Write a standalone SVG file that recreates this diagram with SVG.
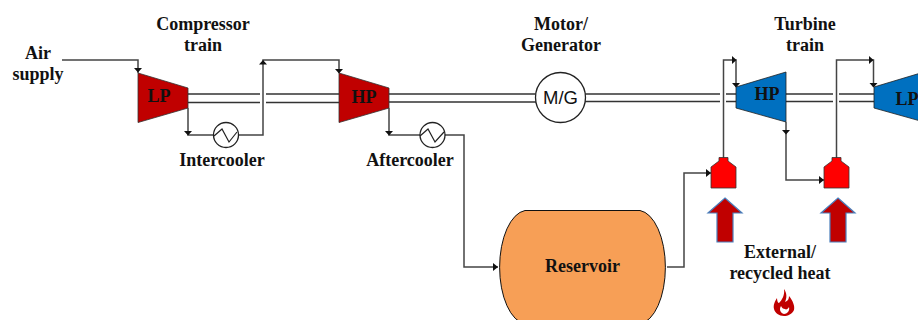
<svg xmlns="http://www.w3.org/2000/svg" width="918" height="320" viewBox="0 0 918 320">
<style>
text{font-family:"Liberation Serif","Times New Roman",serif;font-weight:700;font-size:18px;fill:#111;text-anchor:middle}
.sans{font-family:"Liberation Sans",Arial,sans-serif;font-weight:400;font-size:18.500px}
.pipe{fill:none;stroke:#444;stroke-width:1.500}
.shaft{fill:none;stroke:#333;stroke-width:1.300}
.cool{fill:#fff;stroke:#222;stroke-width:1.300}
.comp{fill:#c00000;stroke:#333;stroke-width:.8}
.turb{fill:#0070c0;stroke:#222;stroke-width:.8}
.burn{fill:#ff0000;stroke:#333;stroke-width:.8}
.up{fill:#c00000;stroke:#4a7ebb;stroke-width:1.200}
.hd{fill:#111}
</style>
<g id="connectors">
<path class="shaft" d="M188 94H260M188 102.500H260M266 94H339M266 102.500H339M389 94H536M389 102H536M585 94H720M585 101.500H720M726 94H736M726 101.500H736M786 94H833M786 101.500H833M839 94H874M839 101.500H874"/>
<path class="pipe" d="M62 60H138V73"/>
<path class="pipe" d="M188 108V135H214M238 135H263V60H339V73"/>
<path class="pipe" d="M389 108V135H420M445 135H464V267H498"/>
<path class="pipe" d="M667 267H684V173H711"/>
<path class="pipe" d="M723.500 158V60H736V87"/>
<path class="pipe" d="M786 122V180H824"/>
<path class="pipe" d="M836.500 158V60H873.500V87"/>
<path class="hd" d="M134 68H142L138 72.500ZM184 131H192L188 135.500ZM259 64.500H267L263 60ZM335 69H343L339 73.500ZM385 131H393L389 135.500ZM493 263V271L498 267ZM706 169V177L711 173ZM732 56V64L736.500 60ZM732 83H740L736 87.500ZM782 130H790L786 134.500ZM819 176V184L824 180ZM869 56V64L873.500 60ZM869.500 83H877.500L873.500 87.500Z"/>
</g>
<g id="air-supply"><text x="38" y="59">Air</text><text x="38" y="80">supply</text></g>
<g id="compressor-train"><text x="203" y="30">Compressor</text><text x="203" y="51">train</text></g>
<g id="lp-compressor"><polygon class="comp" points="138,73 188,88 188,108 138,122.500"/><text x="159" y="102">LP</text></g>
<g id="intercooler"><circle class="cool" cx="226" cy="135" r="12.500"/><path fill="none" stroke="#222" stroke-width="1.200" d="M214 136L222 129L229 142L237 132"/><text x="222" y="166">Intercooler</text></g>
<g id="hp-compressor"><polygon class="comp" points="339,73 389,88 389,108 339,122.500"/><text x="364" y="103">HP</text></g>
<g id="aftercooler"><circle class="cool" cx="432.500" cy="135" r="12.500"/><path fill="none" stroke="#222" stroke-width="1.200" d="M420 136L428 129L435 142L444 132"/><text x="410" y="166">Aftercooler</text></g>
<g id="motor-generator"><text x="561" y="30">Motor/</text><text x="561" y="51">Generator</text><circle cx="560.500" cy="97.500" r="25" fill="#fff" stroke="#222" stroke-width="1.300"/><text class="sans" x="560.500" y="103.500">M/G</text></g>
<g id="turbine-train"><text x="805" y="30">Turbine</text><text x="805" y="51">train</text></g>
<g id="hp-turbine"><polygon class="turb" points="736,87 786,72 786,122 736,108"/><text x="767" y="100">HP</text></g>
<g id="lp-turbine"><polygon class="turb" points="874,87 924,72 924,122 874,108"/><text x="907" y="105">LP</text></g>
<g id="reservoir"><path d="M525 210.500H640A28 57 0 0 1 640 324H525A28 57 0 0 1 525 210.500Z" fill="#f79f56" stroke="#111" stroke-width="1"/><text x="582.500" y="272">Reservoir</text></g>
<g id="burner-1"><polygon class="burn" points="719,157.500 728,157.500 728,161 736,167 736,188 711,188 711,167 719,161"/></g>
<g id="burner-2"><polygon class="burn" points="832,157.500 841,157.500 841,161 849,167 849,188 824,188 824,167 832,161"/></g>
<g id="heat-arrow-1"><polygon class="up" points="725,198 742,213 733,213 733,242 717,242 717,213 708,213"/></g>
<g id="heat-arrow-2"><polygon class="up" points="838,198 855,213 846,213 846,242 830,242 830,213 821,213"/></g>
<g id="external-heat"><text x="780" y="258">External/</text><text x="780" y="279">recycled heat</text><path fill="#c00000" fill-rule="evenodd" d="M784 289C787 293 787 298 785 302C788 301 789 299 789 296C793 301 795 306 794 310C792 314 788 316 784 316C779 316 775 313 774 309C773 305 775 301 777 298C777 301 778 303 779 303C782 300 785 295 784 289ZM781 306C779 309 780 313 784 314C787 314 790 311 789 307C788 309 786 310 785 309C783 309 782 308 781 306Z"/></g>
</svg>
